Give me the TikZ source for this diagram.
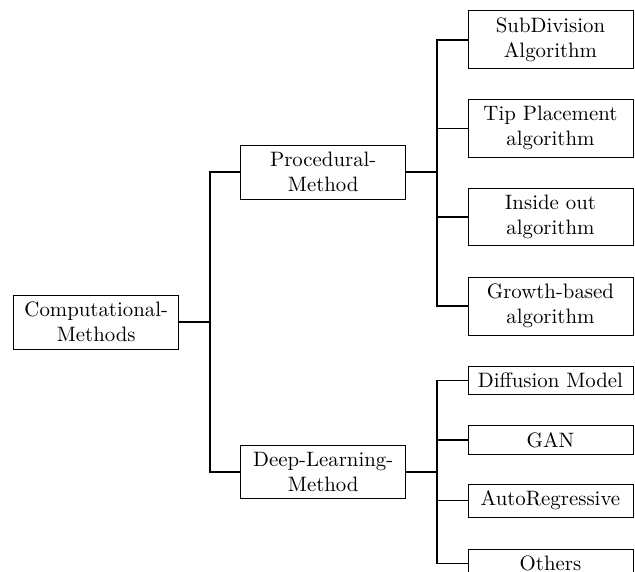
\documentclass[tikz,border=0pt]{standalone}
\usepackage{tikz}
\usetikzlibrary{positioning}

\begin{document}
\begin{tikzpicture}[
    node distance=15pt and 29.4pt,
    box/.style={draw,align=center,text width=72.5pt,inner sep=3.33pt},
    link/.style={thick}
]
    \useasboundingbox (0,0) rectangle (304.8pt,-274.56pt);

    \node[box] (comp) at (46.2pt,-154.66pt) {Computational-\\Methods};
    \node[box,right=of comp,yshift=71.96pt] (proc) {Procedural-\\Method};
    \node[box,right=of comp,yshift=-71.76pt] (deep) {Deep-Learning-\\Method};

    \node[box,right=29.5pt of proc,yshift=63.65pt] (subdiv) {SubDivision\\Algorithm};
    \node[box,right=29.5pt of proc,yshift=21.07pt] (tip) {Tip Placement\\algorithm};
    \node[box,right=29.5pt of proc,yshift=-21.36pt] (inside) {Inside out\\algorithm};
    \node[box,right=29.5pt of proc,yshift=-64.27pt] (growth) {Growth-based\\algorithm};

    \node[box,right=29.5pt of deep,yshift=43.78pt] (diffusion) {Diffusion Model};
    \node[box,right=29.5pt of deep,yshift=15.17pt] (gan) {GAN};
    \node[box,right=29.5pt of deep,yshift=-13.82pt] (autoreg) {AutoRegressive};
    \node[box,right=29.5pt of deep,yshift=-44.06pt] (others) {Others};

    \draw[link] (comp.east) -- ++(14.7pt,0) |- (proc.west);
    \draw[link] (comp.east) -- ++(14.7pt,0) |- (deep.west);
    \draw[link] (proc.east) -- ++(14.75pt,0) |- (subdiv.west);
    \draw[link] (proc.east) -- ++(14.75pt,0) |- (tip.west);
    \draw[link] (proc.east) -- ++(14.75pt,0) |- (inside.west);
    \draw[link] (proc.east) -- ++(14.75pt,0) |- (growth.west);
    \draw[link] (deep.east) -- ++(14.75pt,0) |- (diffusion.west);
    \draw[link] (deep.east) -- ++(14.75pt,0) |- (gan.west);
    \draw[link] (deep.east) -- ++(14.75pt,0) |- (autoreg.west);
    \draw[link] (deep.east) -- ++(14.75pt,0) |- (others.west);
\end{tikzpicture}
\end{document}
